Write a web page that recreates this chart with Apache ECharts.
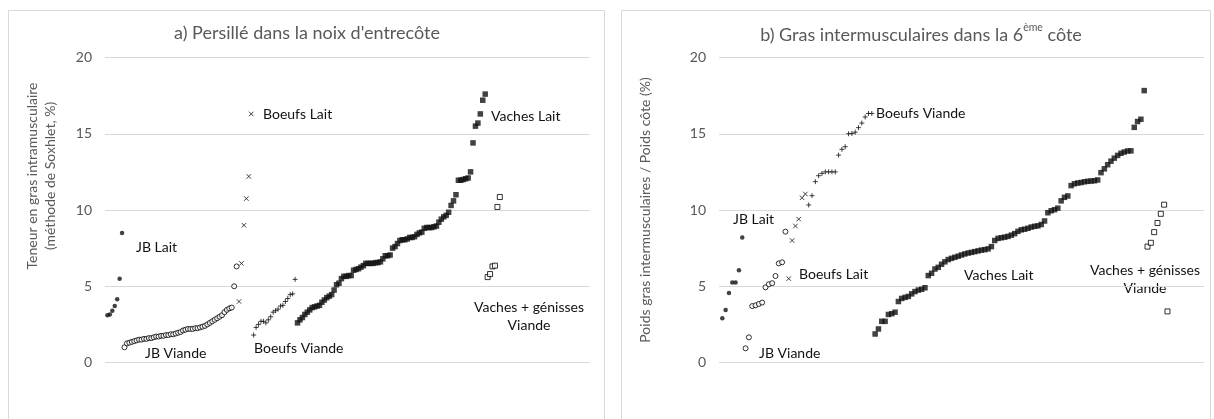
<!DOCTYPE html>
<html>
<head>
<meta charset="utf-8">
<script src="https://cdn.jsdelivr.net/npm/echarts@6/dist/echarts.min.js"></script>
<style>
html,body{margin:0;padding:0;background:#fff;}
#chart{width:1214px;height:419px;}
</style>
</head>
<body>
<div id="chart"></div>
<script>
// ---------- DATA (sorted ranks) ----------
// Panel a) Persillé dans la noix d'entrecôte (%)
const a_jbLait = [3.1, 3.15, 3.4, 3.7, 4.15, 5.5, 8.5];
const a_jbViande = [1.0,1.25,1.3,1.35,1.4,1.45,1.5,1.5,1.55,1.55,1.6,1.6,1.65,1.7,1.7,1.75,1.75,1.8,1.8,1.85,1.85,1.9,1.95,2.0,2.1,2.15,2.2,2.2,2.2,2.25,2.25,2.3,2.35,2.4,2.5,2.6,2.7,2.8,2.9,3.0,3.1,3.3,3.45,3.55,3.6,5.0,6.3];
const a_boeufsLait = [4.0, 6.5, 9.0, 10.75, 12.2, 16.3];
const a_boeufsViande = [1.8,2.3,2.5,2.7,2.7,2.6,2.8,3.0,3.3,3.4,3.5,3.7,3.75,4.0,4.2,4.45,4.5,5.45];
const a_vachesLait = [2.6,2.8,2.95,3.15,3.3,3.45,3.6,3.65,3.7,3.75,
  3.95,4.1,4.25,4.35,4.45,4.75,5.1,5.2,5.5,5.65,
  5.65,5.7,5.7,6.05,6.1,6.15,6.25,6.35,6.5,6.5,
  6.5,6.5,6.55,6.55,6.6,6.8,7.0,7.0,7.05,7.5,
  7.6,7.8,8.0,8.05,8.05,8.1,8.2,8.2,8.25,8.4,
  8.5,8.55,8.8,8.85,8.85,8.85,8.9,8.95,9.2,9.4,
  9.55,9.65,9.85,10.3,10.6,11.0,11.95,11.95,12.0,12.05,
  12.1,12.5,14.4,15.5,15.7,16.3,17.2,17.6];
const a_vgViande = [5.6, 5.8, 6.3, 6.35, 10.2, 10.85];

// Panel b) Gras intermusculaires dans la 6ème côte (%)
const b_jbLait = [2.9, 3.45, 4.55, 5.25, 5.25, 6.05, 8.2];
const b_jbViande = [0.93,1.65,3.7,3.75,3.84,3.93,4.93,5.13,5.2,5.67,6.5,6.57,8.58];
const b_boeufsLait = [5.5, 8.0, 8.95, 9.4, 10.8, 11.05];
const b_boeufsViande = [10.33,10.94,11.86,12.25,12.4,12.5,12.5,12.5,12.5,13.6,13.98,14.15,15.0,15.02,15.1,15.4,15.7,16.1,16.33,16.33];
const b_vachesLait = [1.87,2.2,2.7,2.7,3.15,3.2,3.3,4.0,4.2,4.27,
  4.33,4.5,4.65,4.75,4.8,4.9,5.7,5.85,6.13,6.24,
  6.44,6.6,6.75,6.83,6.9,6.97,7.05,7.12,7.18,7.22,
  7.27,7.32,7.37,7.4,7.45,7.6,8.0,8.14,8.18,8.22,
  8.27,8.35,8.45,8.6,8.7,8.74,8.8,8.88,8.93,8.96,
  9.05,9.28,9.82,9.95,10.02,10.12,10.6,10.83,10.92,11.6,
  11.72,11.77,11.8,11.85,11.88,11.9,11.92,11.97,12.45,12.7,
  12.97,13.2,13.4,13.58,13.72,13.8,13.87,13.88,15.42,15.8,
  15.95,17.83];
const b_vgViande = [7.6,7.85,8.55,9.15,9.75,10.35,3.35];

const yTicks = [0, 5, 10, 15, 20];
const groupNames = ['JB Lait','JB Viande','Boeufs Lait','Boeufs Viande','Vaches Lait','Vaches + génisses Viande'];
const titleA = "a) Persillé dans la noix d'entrecôte";
const yNameA = ['Teneur en gras intramusculaire', '(méthode de Soxhlet, %)'];
const yNameB = 'Poids gras intermusculaires / Poids côte (%)';

// ---------- BUILD ----------
const FONT = 'Lato, "Liberation Sans", sans-serif';
const INK = '#111';
const AXIS_GREY = '#595959';

function rankSeries(groups) {
  // consecutive ranks across groups
  let r = 1; const out = [];
  groups.forEach(g => { out.push(g.map(v => [r++, v])); });
  return out;
}
const aRanked = rankSeries([a_jbLait, a_jbViande, a_boeufsLait, a_boeufsViande, a_vachesLait, a_vgViande]);
const bRanked = rankSeries([b_jbLait, b_jbViande, b_boeufsLait, b_boeufsViande, b_vachesLait, b_vgViande]);

const crossPath = 'path://M0,0L10,10M10,0L0,10';
const plusPath = 'path://M5,0L5,10M0,5L10,5';
const styles = [
  {symbol:'circle', symbolSize:4.5, itemStyle:{color:INK}},
  {symbol:'circle', symbolSize:5, itemStyle:{color:'#fff', borderColor:'#000', borderWidth:1}},
  {symbol:crossPath, symbolSize:4.5, itemStyle:{color:'none', borderColor:INK, borderWidth:1}},
  {symbol:plusPath, symbolSize:5, itemStyle:{color:'none', borderColor:INK, borderWidth:1}},
  {symbol:'rect', symbolSize:5.5, itemStyle:{color:INK}},
  {symbol:'rect', symbolSize:5, itemStyle:{color:'#fff', borderColor:'#000', borderWidth:1}}
];

function mkSeries(ranked, idx) {
  return ranked.map((d, i) => Object.assign({
    type:'scatter', name: groupNames[i], xAxisIndex: idx, yAxisIndex: idx,
    data: d, silent: true, animation:false
  }, styles[i]));
}

const yAxisCommon = {
  type:'value', min: yTicks[0], max: yTicks[yTicks.length-1], interval: yTicks[1]-yTicks[0],
  axisLine:{show:false}, axisTick:{show:false},
  axisLabel:{color:AXIS_GREY, fontSize:14, fontFamily:FONT, margin:13},
  splitLine:{lineStyle:{color:'#d9d9d9', width:1}}
};

function lbl(x, y, text, align) {
  return {type:'text', x:x, y:y, silent:true,
    style:{text:text, fill:INK, font:'14px ' + FONT, align:align||'left', verticalAlign:'middle', lineHeight:18}};
}

const option = {
  backgroundColor:'#fff',
  animation:false,
  grid:[
    {left:105, top:57.5, width:485, height:305},
    {left:719, top:57.5, width:485, height:305}
  ],
  xAxis:[
    {type:'value', gridIndex:0, min:0, max:199, show:false},
    {type:'value', gridIndex:1, min:0, max:146, show:false}
  ],
  yAxis:[
    Object.assign({gridIndex:0}, yAxisCommon),
    Object.assign({gridIndex:1}, yAxisCommon)
  ],
  series: mkSeries(aRanked, 0).concat(mkSeries(bRanked, 1)),
  graphic:[
    {type:'rect', shape:{x:8.5, y:10.5, width:596, height:420}, style:{fill:'none', stroke:'#d9d9d9', lineWidth:1}, silent:true},
    {type:'rect', shape:{x:621.5, y:10.5, width:589, height:420}, style:{fill:'none', stroke:'#d9d9d9', lineWidth:1}, silent:true},
    {type:'text', x:307, y:33, silent:true,
      style:{text:titleA, fill:AXIS_GREY, font:'18px ' + FONT, align:'center', verticalAlign:'middle'}},
    {type:'text', x:921, y:33, silent:true,
      style:{text:'{t|b) Gras intermusculaires dans la 6}{s|ème}{t| côte}', align:'center', verticalAlign:'middle',
        rich:{t:{fill:AXIS_GREY, fontSize:18, fontFamily:FONT, lineHeight:22, verticalAlign:'bottom'},
              s:{fill:AXIS_GREY, fontSize:10.5, fontFamily:FONT, lineHeight:22, verticalAlign:'top'}}}},
    {type:'text', x:32, y:176, rotation:Math.PI/2, silent:true,
      style:{text:yNameA[0], fill:AXIS_GREY, font:'14px ' + FONT, align:'center', verticalAlign:'middle'}},
    {type:'text', x:50, y:176, rotation:Math.PI/2, silent:true,
      style:{text:yNameA[1], fill:AXIS_GREY, font:'14px ' + FONT, align:'center', verticalAlign:'middle'}},
    {type:'text', x:645, y:210, rotation:Math.PI/2, silent:true,
      style:{text:yNameB, fill:AXIS_GREY, font:'14px ' + FONT, align:'center', verticalAlign:'middle'}},
    // panel a labels
    lbl(136, 247, groupNames[0]),
    lbl(145, 353, groupNames[1]),
    lbl(263, 114, groupNames[2]),
    lbl(254, 348, groupNames[3]),
    lbl(491, 116, groupNames[4]),
    lbl(529, 316, 'Vaches + génisses\nViande', 'center'),
    // panel b labels
    lbl(733, 219, groupNames[0]),
    lbl(759, 353, groupNames[1]),
    lbl(799, 274, groupNames[2]),
    lbl(876, 113, groupNames[3]),
    lbl(964, 275, groupNames[4]),
    lbl(1145, 279, 'Vaches + génisses\nViande', 'center')
  ]
};

const chart = echarts.init(document.getElementById('chart'), null, {renderer:'canvas'});
chart.setOption(option);
</script>
</body>
</html>
